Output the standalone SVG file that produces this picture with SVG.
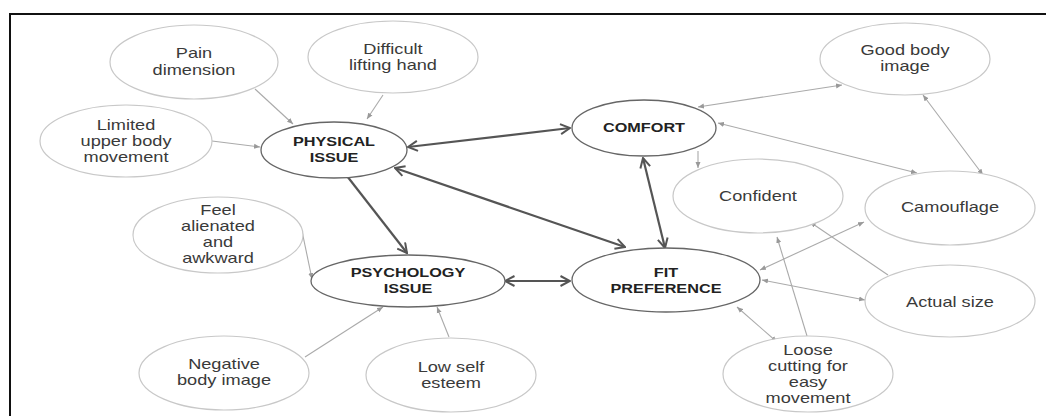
<svg xmlns="http://www.w3.org/2000/svg" width="1046" height="416" viewBox="0 0 1046 416">
<style>
.sub{fill:#fff;stroke:#c8c8c8;stroke-width:1.2}
.main{fill:#fff;stroke:#666;stroke-width:1.3}
.t{font-family:"Liberation Sans",Arial,sans-serif;font-size:14px;fill:#3a3a3a;text-anchor:middle}
.b{font-family:"Liberation Sans",Arial,sans-serif;font-size:12.5px;font-weight:bold;fill:#222;text-anchor:middle}
.thin{fill:none;stroke:#aaa;stroke-width:1.1}
.thick{fill:none;stroke:#555;stroke-width:2.2}
</style>
<defs>
<marker id="ah" viewBox="0 0 6 6" refX="6" refY="3" markerWidth="6" markerHeight="6" markerUnits="userSpaceOnUse" orient="auto-start-reverse"><path d="M0,0.5 L6,3 L0,5.5 z" fill="#999"/></marker>
<marker id="av" viewBox="0 0 12 12" refX="11" refY="6" markerWidth="12" markerHeight="12" markerUnits="userSpaceOnUse" orient="auto-start-reverse"><path d="M1.5,1 L11,6 L1.5,11" fill="none" stroke="#555" stroke-width="2"/></marker>
</defs>
<rect width="1046" height="416" fill="#fff"/>
<rect x="10" y="14" width="1040" height="410" fill="none" stroke="#111" stroke-width="2"/>

<g id="connectors">
<line class="thin" x1="255" y1="89" x2="293" y2="124" marker-end="url(#ah)"/>
<line class="thin" x1="383" y1="95" x2="367" y2="119" marker-end="url(#ah)"/>
<line class="thin" x1="212" y1="141" x2="260" y2="147" marker-end="url(#ah)"/>
<path class="thin" d="M302,231 Q306,250 312,279" marker-end="url(#ah)"/>
<line class="thin" x1="305" y1="357" x2="383" y2="307" marker-end="url(#ah)"/>
<line class="thin" x1="449" y1="337" x2="437" y2="307" marker-end="url(#ah)"/>
<line class="thin" x1="842" y1="85" x2="698" y2="107" marker-start="url(#ah)" marker-end="url(#ah)"/>
<line class="thin" x1="718" y1="123" x2="917" y2="173" marker-start="url(#ah)" marker-end="url(#ah)"/>
<line class="thin" x1="983" y1="175" x2="923" y2="95" marker-start="url(#ah)" marker-end="url(#ah)"/>
<line class="thin" x1="698" y1="151" x2="698" y2="168" marker-end="url(#ah)"/>
<line class="thin" x1="864" y1="222" x2="760" y2="270" marker-start="url(#ah)" marker-end="url(#ah)"/>
<line class="thin" x1="888" y1="275" x2="810" y2="222" marker-end="url(#ah)"/>
<line class="thin" x1="865" y1="300" x2="762" y2="280" marker-start="url(#ah)" marker-end="url(#ah)"/>
<line class="thin" x1="777" y1="342" x2="737" y2="307" marker-start="url(#ah)" marker-end="url(#ah)"/>
<line class="thin" x1="807" y1="336" x2="777" y2="237" marker-end="url(#ah)"/>
<line class="thick" x1="408" y1="147" x2="570" y2="128" marker-start="url(#av)" marker-end="url(#av)"/>
<line class="thick" x1="395" y1="168" x2="625" y2="247" marker-start="url(#av)" marker-end="url(#av)"/>
<line class="thick" x1="347" y1="176" x2="407" y2="253" marker-end="url(#av)"/>
<line class="thick" x1="643" y1="158" x2="665" y2="248" marker-start="url(#av)" marker-end="url(#av)"/>
<line class="thick" x1="505" y1="281" x2="570" y2="281" marker-start="url(#av)" marker-end="url(#av)"/>
</g>

<g id="pain-dimension"><ellipse class="sub" cx="194" cy="62" rx="84" ry="37"/>
<g transform="translate(194,0) scale(1.3,1)"><text class="t" y="58">Pain</text><text class="t" y="75">dimension</text></g></g>

<g id="difficult-lifting-hand"><ellipse class="sub" cx="393" cy="57" rx="85" ry="36"/>
<g transform="translate(393,0) scale(1.3,1)"><text class="t" y="54">Difficult</text><text class="t" y="70">lifting hand</text></g></g>

<g id="limited-upper-body"><ellipse class="sub" cx="126" cy="141" rx="86" ry="36"/>
<g transform="translate(126,0) scale(1.3,1)"><text class="t" y="130">Limited</text><text class="t" y="146">upper body</text><text class="t" y="162">movement</text></g></g>

<g id="physical-issue"><ellipse class="main" cx="334" cy="150" rx="73" ry="28"/>
<g transform="translate(334,0) scale(1.3,1)"><text class="b" y="146">PHYSICAL</text><text class="b" y="162">ISSUE</text></g></g>

<g id="comfort"><ellipse class="main" cx="644" cy="128" rx="72" ry="28"/>
<g transform="translate(644,0) scale(1.3,1)"><text class="b" y="132">COMFORT</text></g></g>

<g id="good-body-image"><ellipse class="sub" cx="905" cy="59" rx="85" ry="36"/>
<g transform="translate(905,0) scale(1.3,1)"><text class="t" y="55">Good body</text><text class="t" y="71">image</text></g></g>

<g id="confident"><ellipse class="sub" cx="758" cy="196" rx="85" ry="37"/>
<g transform="translate(758,0) scale(1.3,1)"><text class="t" y="201">Confident</text></g></g>

<g id="camouflage"><ellipse class="sub" cx="950" cy="208" rx="85" ry="37"/>
<g transform="translate(950,0) scale(1.3,1)"><text class="t" y="212">Camouflage</text></g></g>

<g id="actual-size"><ellipse class="sub" cx="950" cy="301" rx="85" ry="36"/>
<g transform="translate(950,0) scale(1.3,1)"><text class="t" y="307">Actual size</text></g></g>

<g id="loose-cutting"><ellipse class="sub" cx="808" cy="374" rx="85" ry="38"/>
<g transform="translate(808,0) scale(1.3,1)"><text class="t" y="355">Loose</text><text class="t" y="371">cutting for</text><text class="t" y="387">easy</text><text class="t" y="403">movement</text></g></g>

<g id="fit-preference"><ellipse class="main" cx="666" cy="280" rx="94" ry="32"/>
<g transform="translate(666,0) scale(1.3,1)"><text class="b" y="277">FIT</text><text class="b" y="293">PREFERENCE</text></g></g>

<g id="psychology-issue"><ellipse class="main" cx="408" cy="281" rx="97" ry="26"/>
<g transform="translate(408,0) scale(1.3,1)"><text class="b" y="277">PSYCHOLOGY</text><text class="b" y="293">ISSUE</text></g></g>

<g id="feel-alienated"><ellipse class="sub" cx="218" cy="235" rx="85" ry="38"/>
<g transform="translate(218,0) scale(1.3,1)"><text class="t" y="215">Feel</text><text class="t" y="231">alienated</text><text class="t" y="247">and</text><text class="t" y="263">awkward</text></g></g>

<g id="negative-body-image"><ellipse class="sub" cx="224" cy="373" rx="85" ry="37"/>
<g transform="translate(224,0) scale(1.3,1)"><text class="t" y="369">Negative</text><text class="t" y="385">body image</text></g></g>

<g id="low-self-esteem"><ellipse class="sub" cx="451" cy="375" rx="85" ry="37"/>
<g transform="translate(451,0) scale(1.3,1)"><text class="t" y="372">Low self</text><text class="t" y="388">esteem</text></g></g>
</svg>
